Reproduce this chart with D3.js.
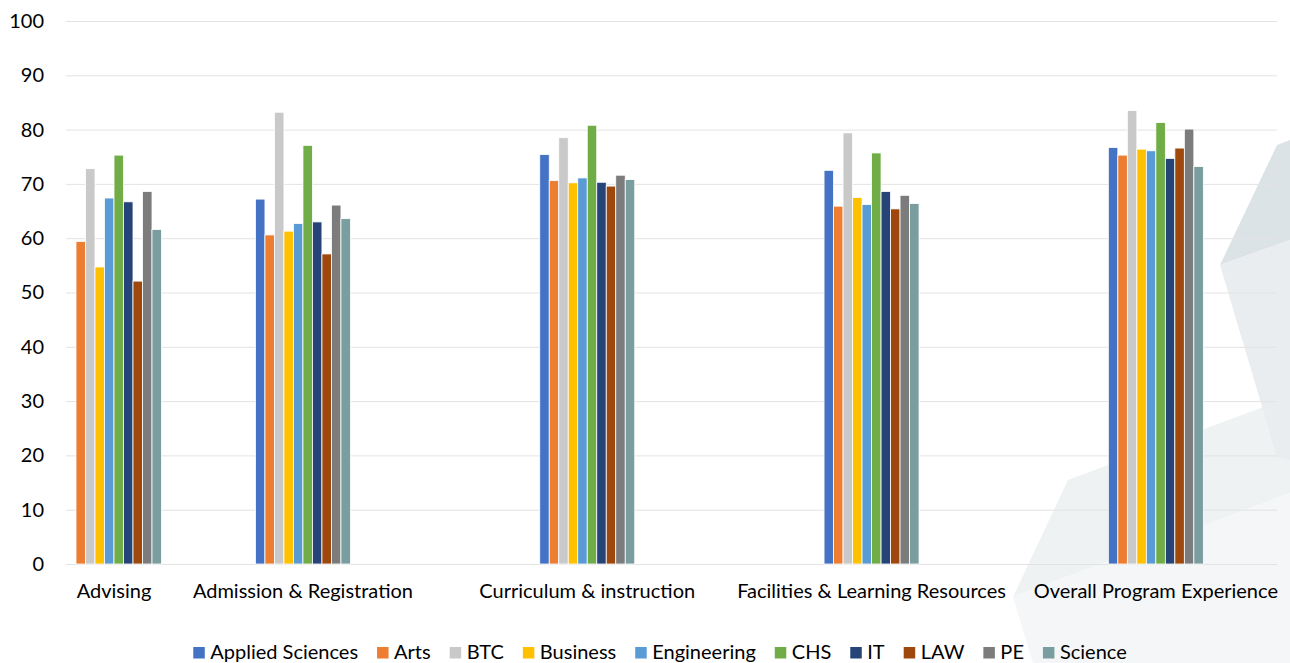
<!DOCTYPE html>
<html>
<head>
<meta charset="utf-8">
<script src="https://cdn.jsdelivr.net/npm/d3@7"></script>
<style>
body { margin: 0; background: #fff; }
svg { display: block; font-family: Lato, "Open Sans", sans-serif; }
</style>
</head>
<body>
<div id="vizDiv"></div>
<script>
// categories and series
var categories = ["Advising", "Admission & Registration", "Curriculum & instruction", "Facilities & Learning Resources", "Overall Program Experience"]
var seriesNames = ["Applied Sciences", "Arts", "BTC", "Business", "Engineering", "CHS", "IT", "LAW", "PE", "Science"]
var seriesColors = ["#4472C4", "#ED7D31", "#C9C9C9", "#FFC000", "#5B9BD5", "#70AD47", "#264478", "#9E480E", "#7C7C7C", "#7A9E9F"]
var yTicks = [0, 10, 20, 30, 40, 50, 60, 70, 80, 90, 100]

// values per series, one per category (null = no bar)
var appliedSciences = [null, 67.2, 75.4, 72.5, 76.7]
var arts            = [59.4, 60.6, 70.6, 65.9, 75.3]
var btc             = [72.8, 83.2, 78.5, 79.4, 83.5]
var business        = [54.7, 61.3, 70.2, 67.5, 76.4]
var engineering     = [67.4, 62.7, 71.1, 66.2, 76.1]
var chs             = [75.3, 77.1, 80.8, 75.7, 81.3]
var it              = [66.7, 63.0, 70.3, 68.6, 74.7]
var law             = [52.1, 57.1, 69.6, 65.4, 76.6]
var pe              = [68.6, 66.1, 71.6, 67.9, 80.1]
var science         = [61.6, 63.6, 70.8, 66.4, 73.2]

var seriesValues = [appliedSciences, arts, btc, business, engineering, chs, it, law, pe, science]

var width = 1290
var height = 663
var plotLeft = 66
var plotRight = 1277
var plotTop = 21
var plotBottom = 564
var bandStep = 284.3
var groupWidth = 95
var fontSize = "20px"
var legendGap = 19

var svg = d3.select("#vizDiv")
    .append("svg")
    .attr("width", width)
    .attr("height", height)

// faint decorative shapes of the slide background
var bgShapes = [
    {pts: [[1013, 597], [1068, 480], [1290, 397], [1290, 493]], fill: "#EEF2F3"},
    {pts: [[1013, 597], [1290, 493], [1290, 663], [1033, 663]], fill: "#F4F6F7"},
    {pts: [[1277, 145], [1290, 140], [1290, 240], [1220, 265]], fill: "#DCE3E7"},
    {pts: [[1220, 265], [1290, 240], [1290, 460], [1277, 457]], fill: "#E9EDF0"}
]
svg.selectAll(".bg")
    .data(bgShapes)
    .enter()
    .append("polygon")
    .attr("class", "bg")
    .attr("points", d => d.pts.map(p => p.join(",")).join(" "))
    .attr("fill", d => d.fill)

var y = d3.scaleLinear().domain([0, 100]).range([plotBottom, plotTop])

// category bands run off to the left; the first group is pushed back inside the plot
var x0 = d3.scaleBand()
    .domain(categories)
    .range([plotRight + 21 - bandStep * categories.length, plotRight + 21])

var x1 = d3.scaleBand()
    .domain(seriesNames)
    .range([0, groupWidth])

function groupLeft(c) {
    return Math.max(plotLeft + 0.5, x0(c) + (x0.bandwidth() - groupWidth) / 2)
}

// grid lines
var yAxis = d3.axisLeft(y)
    .tickValues(yTicks)
    .tickSize(-(plotRight - plotLeft))
    .tickPadding(22)

var gy = svg.append("g")
    .attr("transform", "translate(" + plotLeft + ",0)")
    .call(yAxis)
gy.select(".domain").remove()
gy.selectAll(".tick line").attr("stroke", "#E3E3E3").attr("stroke-width", 1)
gy.selectAll(".tick text")
    .attr("fill", "#000")
    .style("font-size", fontSize)
    .style("font-family", "Lato, 'Open Sans', sans-serif")

// bars
var table = []
categories.forEach(function(c, ci) {
    seriesNames.forEach(function(s, si) {
        if (seriesValues[si][ci] != null) {
            table.push({cat: c, series: s, value: seriesValues[si][ci], color: seriesColors[si]})
        }
    })
})

svg.selectAll(".bar")
    .data(table)
    .enter()
    .append("rect")
    .attr("class", "bar")
    .attr("x", d => groupLeft(d.cat) + x1(d.series))
    .attr("y", d => y(d.value))
    .attr("width", x1.bandwidth())
    .attr("height", d => y(0) - y(d.value))
    .attr("fill", d => d.color)
    .attr("stroke", "#fff")
    .attr("stroke-width", 0.8)

// category labels
svg.selectAll(".catLabel")
    .data(categories)
    .enter()
    .append("text")
    .attr("class", "catLabel")
    .attr("x", c => groupLeft(c) + groupWidth / 2)
    .attr("y", 598)
    .attr("text-anchor", "middle")
    .style("font-size", fontSize)
    .text(c => c)

// legend, laid out left to right
var legend = svg.append("g").attr("class", "legend")
var lx = 0
seriesNames.forEach(function(s, i) {
    var item = legend.append("g").attr("transform", "translate(" + lx + ",0)")
    item.append("rect")
        .attr("x", 0)
        .attr("y", -12)
        .attr("width", 11.5)
        .attr("height", 11.5)
        .attr("fill", seriesColors[i])
    var t = item.append("text")
        .attr("x", 17)
        .attr("y", 0)
        .style("font-size", fontSize)
        .text(s)
    lx += 17 + t.node().getComputedTextLength() + legendGap
})
var legendWidth = lx - legendGap
legend.attr("transform", "translate(" + (660 - legendWidth / 2) + ",659)")
</script>
</body>
</html>
